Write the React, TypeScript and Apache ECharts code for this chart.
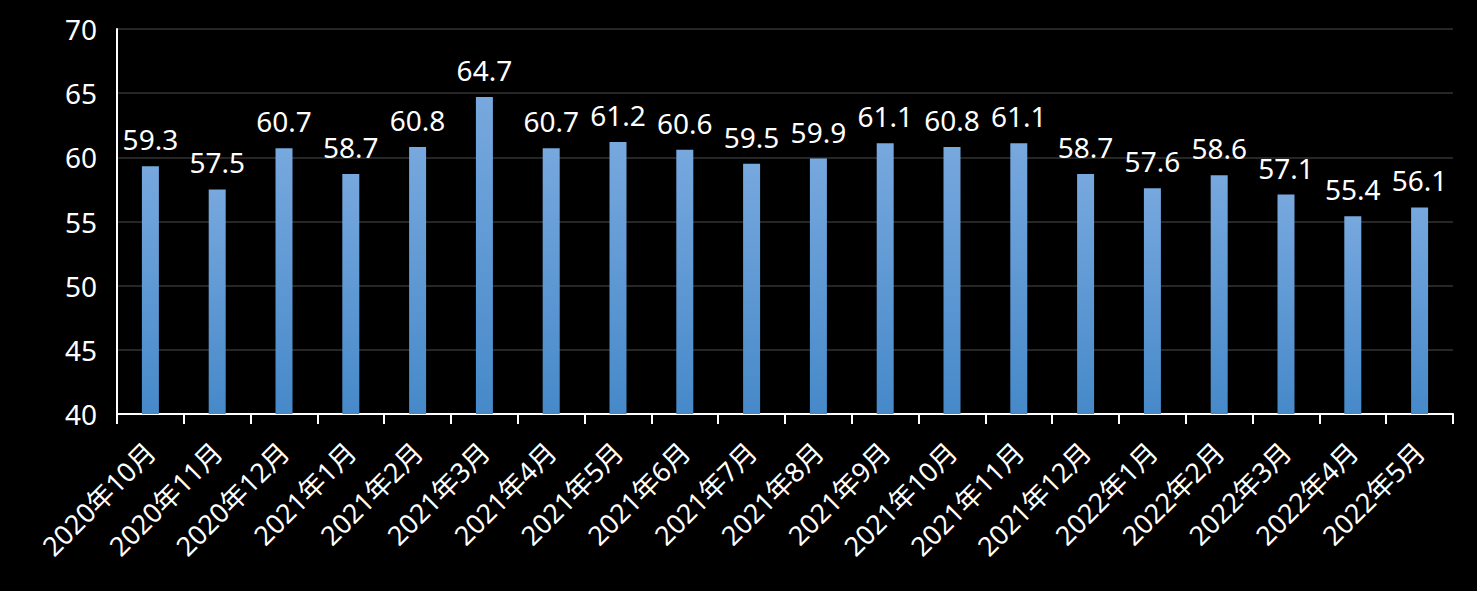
import React, { useEffect, useRef } from "react";
import * as echarts from "echarts";

const categories = [
  "2020年10月", "2020年11月", "2020年12月", "2021年1月", "2021年2月", "2021年3月",
  "2021年4月", "2021年5月", "2021年6月", "2021年7月", "2021年8月", "2021年9月",
  "2021年10月", "2021年11月", "2021年12月", "2022年1月", "2022年2月", "2022年3月",
  "2022年4月", "2022年5月",
];
const values = [
  59.3, 57.5, 60.7, 58.7, 60.8, 64.7, 60.7, 61.2, 60.6, 59.5, 59.9, 61.1,
  60.8, 61.1, 58.7, 57.6, 58.6, 57.1, 55.4, 56.1,
];
const yMin = 40;
const yMax = 70;
const yInterval = 5;

const FONT = "'Noto Sans', 'Noto Sans CJK SC', sans-serif";

export default function App() {
  const ref = useRef<HTMLDivElement>(null);
  useEffect(() => {
    if (!ref.current) return;
    const chart = echarts.init(ref.current, undefined, { renderer: "svg" });
    chart.setOption({
      animation: false,
      backgroundColor: "#000000",
      textStyle: { fontFamily: FONT },
      grid: { left: 117, right: 24, top: 29, bottom: 177, containLabel: false },
      xAxis: {
        type: "category",
        data: categories,
        boundaryGap: true,
        axisLine: { show: true, lineStyle: { color: "#ffffff", width: 2 } },
        axisTick: { show: true, length: 10, lineStyle: { color: "#ffffff", width: 2 } },
        axisLabel: {
          color: "#ffffff",
          fontSize: 27,
          fontFamily: FONT,
          rotate: 45,
          margin: 33,
          interval: 0,
        },
      },
      yAxis: {
        type: "value",
        min: yMin,
        max: yMax,
        interval: yInterval,
        axisLine: { show: true, lineStyle: { color: "#ffffff", width: 2 } },
        axisTick: { show: false },
        splitLine: { show: true, lineStyle: { color: "#262626", width: 2 } },
        axisLabel: { color: "#ffffff", fontSize: 28, fontFamily: FONT, margin: 20 },
      },
      series: [
        {
          type: "bar",
          data: values,
          barWidth: 17,
          itemStyle: {
            color: new echarts.graphic.LinearGradient(0, 0, 0, 1, [
              { offset: 0, color: "#77A8DE" },
              { offset: 1, color: "#4689C9" },
            ]),
          },
          label: {
            show: true,
            position: "top",
            distance: 13,
            color: "#ffffff",
            fontSize: 28,
            fontFamily: FONT,
          },
        },
      ],
    });
    return () => chart.dispose();
  }, []);
  return (
    <div
      ref={ref}
      style={{ position: "absolute", left: 0, top: 0, width: 1477, height: 591, background: "#000" }}
    />
  );
}
